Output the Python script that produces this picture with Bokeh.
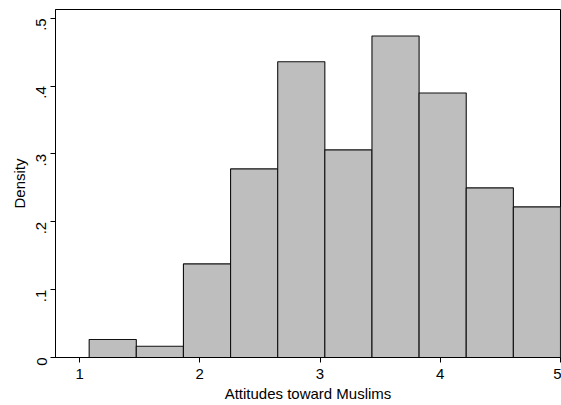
import math
from bokeh.plotting import figure
from bokeh.models import Range1d, FixedTicker, ColumnDataSource
from bokeh.embed import file_html
from bokeh.resources import INLINE

# ---- data ----
bin_edges = [1.08, 1.472, 1.864, 2.256, 2.648, 3.04, 3.432, 3.824, 4.216, 4.608, 5.0]
density = [0.0265, 0.0166, 0.138, 0.278, 0.436, 0.306, 0.474, 0.390, 0.250, 0.222]
x_ticks = [1, 2, 3, 4, 5]
x_tick_labels = ["1", "2", "3", "4", "5"]
y_ticks = [0, 0.1, 0.2, 0.3, 0.4, 0.5]
y_tick_labels = ["0", ".1", ".2", ".3", ".4", ".5"]
x_title = "Attitudes toward Muslims"
y_title = "Density"

FONT = "Liberation Sans"

src = ColumnDataSource(dict(
    left=bin_edges[:-1],
    right=bin_edges[1:],
    top=density,
    bottom=[0] * len(density),
))

p = figure(width=561, height=405, output_backend="svg", toolbar_location=None,
           x_range=Range1d(0.8, 5.0), y_range=Range1d(0, 0.513),
           min_border_left=55, min_border_right=1, min_border_top=9, min_border_bottom=48)

p.quad(left="left", right="right", top="top", bottom="bottom", source=src,
       fill_color="#bebebe", line_color="#111111", line_width=1.1)

p.background_fill_color = "white"
p.border_fill_color = "white"
p.outline_line_color = "black"
p.outline_line_width = 1
p.xgrid.visible = False
p.ygrid.visible = False

for ax in (p.xaxis[0], p.yaxis[0]):
    ax.axis_line_color = "black"
    ax.axis_line_width = 1
    ax.major_tick_line_color = "black"
    ax.major_tick_out = 5
    ax.major_tick_in = 0
    ax.minor_tick_line_color = None
    ax.major_label_text_font = FONT
    ax.major_label_text_font_size = "15px"
    ax.major_label_text_color = "black"
    ax.axis_label_text_font = FONT
    ax.axis_label_text_font_size = "15px"
    ax.axis_label_text_font_style = "normal"
    ax.axis_label_text_color = "black"

p.xaxis.ticker = FixedTicker(ticks=x_ticks)
p.xaxis.major_label_overrides = {t: l for t, l in zip(x_ticks, x_tick_labels)}
p.xaxis.axis_label = x_title
p.xaxis.major_label_standoff = 6
p.xaxis.axis_label_standoff = 3

p.yaxis.ticker = FixedTicker(ticks=y_ticks)
p.yaxis.major_label_overrides = {t: l for t, l in zip(y_ticks, y_tick_labels)}
p.yaxis.major_label_orientation = math.pi / 2
p.yaxis.axis_label = y_title
p.yaxis.major_label_standoff = 9
p.yaxis.axis_label_standoff = 1

open("out.html", "w").write(file_html(p, INLINE))
